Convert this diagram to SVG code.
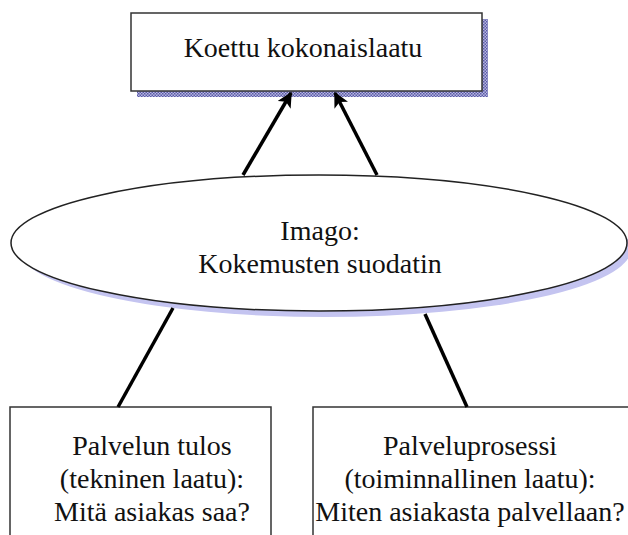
<svg xmlns="http://www.w3.org/2000/svg" width="628" height="535" viewBox="0 0 628 535">
  <defs>
    <pattern id="dither" width="3" height="3" patternUnits="userSpaceOnUse">
      <rect width="3" height="3" fill="#b8b8e0"/>
      <rect width="1.5" height="1.5" fill="#5a5aa8"/>
      <rect x="1.5" y="1.5" width="1.5" height="1.5" fill="#5a5aa8"/>
    </pattern>
    <marker id="arrow" viewBox="0 0 10 10" refX="9" refY="5" markerWidth="4.4" markerHeight="4.4" orient="auto" markerUnits="strokeWidth">
      <path d="M0,0 L10,5 L0,10 L2.5,5 Z" fill="#000"/>
    </marker>
  </defs>
  <style>
    .box { fill: #fff; stroke: #333; stroke-width: 1.5; }
    .label { font-family: 'Liberation Serif', 'Times New Roman', serif; font-size: 28px; fill: #111; text-anchor: middle; }
    .link { stroke: #000; stroke-width: 3.5; fill: none; }
  </style>

  <rect width="628" height="535" fill="#fff"/>

  <!-- Result node -->
  <g id="koettu">
    <rect x="137" y="19" width="351" height="78" fill="url(#dither)"/>
    <rect class="box" x="131" y="13" width="351" height="78"/>
    <text class="label" x="303" y="57">Koettu kokonaislaatu</text>
  </g>

  <!-- Filter node -->
  <g id="imago">
    <ellipse cx="325" cy="249" rx="306" ry="68" fill="#c4c4f0"/>
    <ellipse cx="319" cy="243" rx="308" ry="68" fill="#fff" stroke="#222" stroke-width="1.5"/>
    <text class="label" x="320" y="240">Imago:</text>
    <text class="label" x="320" y="273">Kokemusten suodatin</text>
  </g>

  <!-- Technical quality node -->
  <g id="tekninen">
    <path class="box" d="M10,545 V407 H271 V545"/>
    <text class="label" x="152" y="455">Palvelun tulos</text>
    <text class="label" x="152" y="488">(tekninen laatu):</text>
    <text class="label" x="152" y="521">Mitä asiakas saa?</text>
  </g>

  <!-- Functional quality node -->
  <g id="toiminnallinen">
    <path class="box" d="M313,545 V407 H640"/>
    <text class="label" x="470" y="455">Palveluprosessi</text>
    <text class="label" x="470" y="488">(toiminnallinen laatu):</text>
    <text class="label" x="470" y="521">Miten asiakasta palvellaan?</text>
  </g>

  <!-- Connectors -->
  <g id="connectors">
    <line class="link" x1="243" y1="175" x2="291" y2="93" marker-end="url(#arrow)"/>
    <line class="link" x1="377" y1="175" x2="335" y2="93" marker-end="url(#arrow)"/>
    <line class="link" x1="173" y1="308" x2="118" y2="407"/>
    <line class="link" x1="425" y1="314" x2="467" y2="407"/>
  </g>
</svg>
